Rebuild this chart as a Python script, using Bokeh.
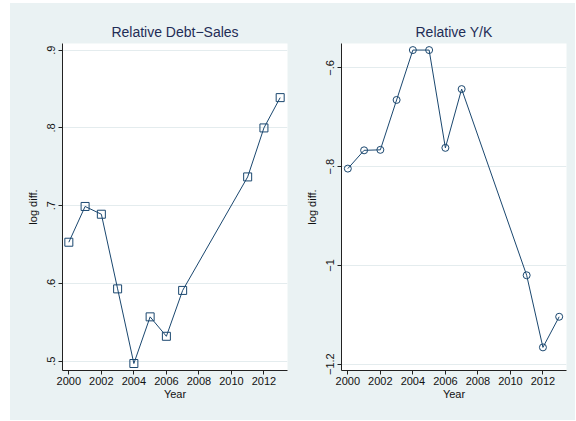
from bokeh.plotting import figure
from bokeh.layouts import row, column
from bokeh.models import FixedTicker, Range1d, Spacer
from bokeh.embed import file_html
from bokeh.resources import INLINE

# ---- data ----
years = [2000, 2001, 2002, 2003, 2004, 2005, 2006, 2007, 2011, 2012, 2013]
debt_sales = [0.653, 0.699, 0.689, 0.593, 0.497, 0.557, 0.532, 0.591, 0.737, 0.800, 0.839]
yk = [-0.804, -0.767, -0.766, -0.665, -0.564, -0.564, -0.762, -0.643, -1.020, -1.166, -1.104]

x_ticks = [2000, 2002, 2004, 2006, 2008, 2010, 2012]
left_y_ticks = [0.5, 0.6, 0.7, 0.8, 0.9]
left_y_labels = [".5", ".6", ".7", ".8", ".9"]
right_y_ticks = [-1.2, -1.0, -0.8, -0.6]
right_y_labels = ["\u22121.2", "\u22121", "\u2212.8", "\u2212.6"]

titles = ["Relative Debt\u2212Sales", "Relative Y/K"]

BG = "#EAF2F3"
NAVY = "#1A476F"
FONT = "Liberation Sans"
H = 417


def make(title, w, mbl, mbr, yrange, yt, yl):
    p = figure(width=w, height=H, output_backend="svg", toolbar_location=None,
               min_border_left=mbl, min_border_right=mbr,
               min_border_top=40, min_border_bottom=50,
               x_range=Range1d(1999.61, 2013.45), y_range=Range1d(*yrange))
    p.background_fill_color = "white"
    p.border_fill_color = BG
    p.outline_line_color = None
    p.title.text = title
    p.title.align = "center"
    p.title.text_font = FONT
    p.title.text_font_size = "14px"
    p.title.text_font_style = "normal"
    p.title.text_color = "#1F2D56"
    p.title.standoff = 7
    p.xgrid.visible = False
    p.ygrid.grid_line_color = "#E4ECEE"
    p.ygrid.grid_line_width = 1
    p.ygrid.ticker = FixedTicker(ticks=yt)
    p.xaxis.ticker = FixedTicker(ticks=x_ticks)
    p.yaxis.ticker = FixedTicker(ticks=yt)
    p.yaxis.major_label_overrides = dict(zip(yt, yl))
    p.yaxis.major_label_orientation = "vertical"
    p.xaxis.axis_label = "Year"
    p.yaxis.axis_label = "log diff."
    for ax in (p.xaxis[0], p.yaxis[0]):
        ax.axis_line_color = "#222222"
        ax.axis_line_width = 1
        ax.major_tick_line_color = "#222222"
        ax.major_tick_out = 4
        ax.major_tick_in = 0
        ax.minor_tick_line_color = None
        ax.major_label_text_font = FONT
        ax.major_label_text_font_size = "11px"
        ax.major_label_text_color = "#111111"
        ax.axis_label_text_font = FONT
        ax.axis_label_text_font_size = "11px"
        ax.axis_label_text_font_style = "normal"
        ax.axis_label_text_color = "#111111"
    p.xaxis.major_label_standoff = 2
    p.xaxis.axis_label_standoff = 0
    p.yaxis.major_label_standoff = 3
    p.yaxis.axis_label_standoff = 6
    return p


p1 = make(titles[0], 290, 52, 13, (0.488, 0.9086), left_y_ticks, left_y_labels)
p1.line(years, debt_sales, line_color=NAVY, line_width=1)
p1.scatter(years, debt_sales, marker="square", size=8, fill_color=None,
           line_color=NAVY, line_width=1)

p2 = make(titles[1], 275, 41, 9, (-1.2128, -0.5507), right_y_ticks, right_y_labels)
p2.line(years, yk, line_color=NAVY, line_width=1)
p2.scatter(years, yk, marker="circle", size=7, fill_color=None,
           line_color=NAVY, line_width=1)

panels = row(p1, p2, spacing=0)
panels.styles = {"background-color": BG}

layout = column(Spacer(width=10, height=3),
                row(Spacer(width=10, height=H), panels, spacing=0),
                spacing=0)

open("out.html", "w").write(file_html(layout, INLINE))
